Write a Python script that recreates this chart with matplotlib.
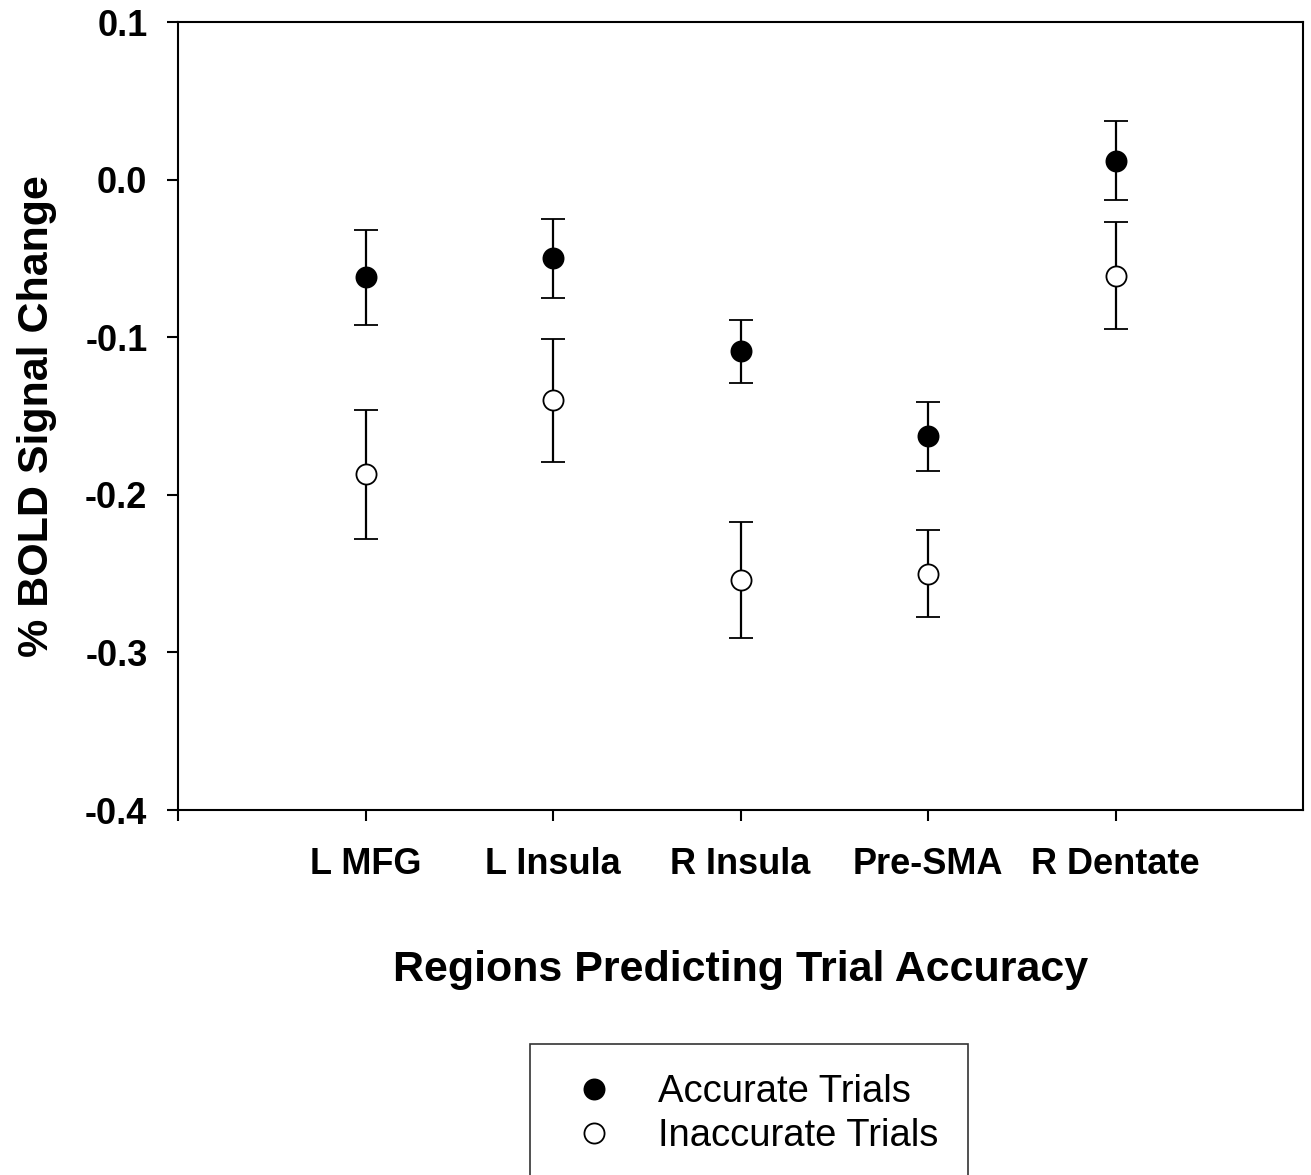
import matplotlib
matplotlib.use("Agg")
import matplotlib.pyplot as plt
from matplotlib.lines import Line2D

categories = ["L MFG", "L Insula", "R Insula", "Pre-SMA", "R Dentate"]
accurate = [-0.062, -0.050, -0.109, -0.163, 0.012]
accurate_err = [0.030, 0.025, 0.020, 0.022, 0.025]
inaccurate = [-0.187, -0.140, -0.254, -0.250, -0.061]
inaccurate_err = [0.041, 0.039, 0.037, 0.0275, 0.034]
yticks = [0.1, 0.0, -0.1, -0.2, -0.3, -0.4]
ytick_labels = ["0.1", "0.0", "-0.1", "-0.2", "-0.3", "-0.4"]

plt.rcParams['font.family'] = ['Liberation Sans', 'DejaVu Sans']

fig = plt.figure(figsize=(13.11, 11.75), dpi=100)
ax = fig.add_axes([178/1311, 1 - 810/1175, (1303-178)/1311, (810-22)/1175])

x = list(range(1, len(categories) + 1))
ms = 14.5
ax.errorbar(x, accurate, yerr=accurate_err, fmt='o', color='black',
            mfc='black', mec='black', ms=ms, mew=1.3, elinewidth=1.6,
            capsize=8.6, capthick=1.6, zorder=3)
ax.errorbar(x, inaccurate, yerr=inaccurate_err, fmt='o', color='black',
            mfc='white', mec='black', ms=ms, mew=1.3, elinewidth=1.6,
            capsize=8.6, capthick=1.6, zorder=3)

ax.set_xlim(0, 6)
ax.set_ylim(-0.4, 0.1)
ax.set_yticks(yticks)
ax.set_yticklabels(ytick_labels, fontsize=26, fontweight='bold')
ax.set_xticks([0] + x)
ax.set_xticklabels([""] + categories, fontsize=26, fontweight='bold')
ax.tick_params(axis='y', direction='out', length=8, width=1.5, pad=14)
ax.tick_params(axis='x', direction='out', length=8, width=1.5, pad=18.5)
for s in ax.spines.values():
    s.set_linewidth(1.5)

ax.set_xlabel("Regions Predicting Trial Accuracy", fontsize=31,
              fontweight='bold', labelpad=49)
ax.set_ylabel("% BOLD Signal Change", fontsize=31, fontweight='bold', va='center')
ax.yaxis.set_label_coords(-0.125, 0.5)

handles = [
    Line2D([], [], ls='none', marker='o', ms=ms, mfc='black', mec='black', mew=1.3),
    Line2D([], [], ls='none', marker='o', ms=ms, mfc='white', mec='black', mew=1.3),
]
leg = fig.legend(handles, ["Accurate Trials", "Inaccurate Trials"],
                 loc='upper left', bbox_to_anchor=(530/1311, 1 - 1044/1175),
                 fontsize=27.5, frameon=True, fancybox=False, borderpad=0.785,
                 handlelength=1.78, handletextpad=0.785, labelspacing=0.22,
                 borderaxespad=0)
leg.get_frame().set_edgecolor('black')
leg.get_frame().set_linewidth(1.2)

fig.savefig("out.png", dpi=100)
